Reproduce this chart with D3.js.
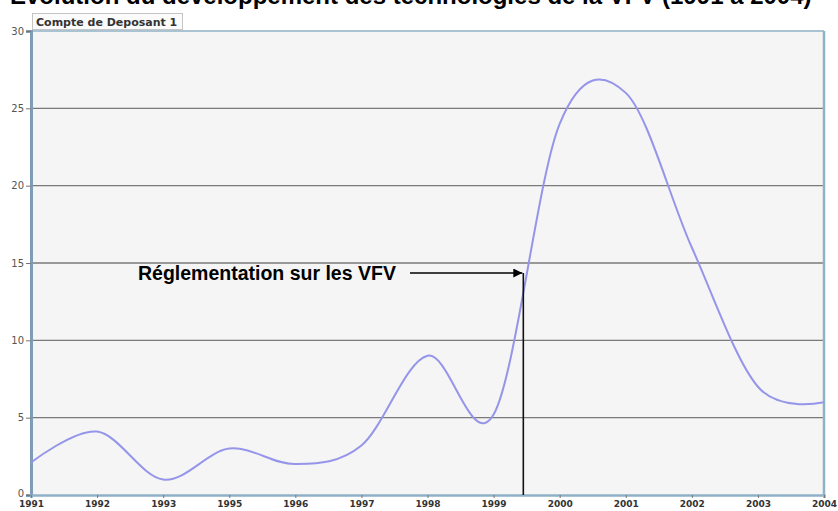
<!DOCTYPE html>
<html>
<head>
<meta charset="utf-8">
<script src="https://cdn.jsdelivr.net/npm/d3@7/dist/d3.min.js"></script>
<style>
  html, body { margin: 0; padding: 0; background: #ffffff; }
  svg { display: block; }
</style>
</head>
<body>
<svg id="chart" width="838" height="511"></svg>
<script>
// Years shown on the axis (1994 is absent from the series)
const years = ["1991", "1992", "1993", "1995", "1996", "1997", "1998", "1999", "2000", "2001", "2002", "2003", "2004"];
// Values of the series "Compte de Deposant 1"
const deposant = [2.1, 4.1, 1.0, 3.0, 2.0, 3.2, 9.0, 5.2, 24.0, 26.0, 16.0, 7.0, 6.0];
const yTicks = [0, 5, 10, 15, 20, 25, 30];
const seriesName = "Compte de Deposant 1";
const titleText = "Evolution du développement des technologies de la VFV (1991 à 2004)";
const annotationText = "Réglementation sur les VFV";
// Regulation date, as a position between the 1999 and 2000 categories
const annotationAfter = "1999";
const annotationFraction = 0.45;

const svg = d3.select("#chart");
const margin = { left: 31, right: 14, top: 31, bottom: 16 };
const W = 838, H = 511;

const x = d3.scalePoint().domain(years).range([margin.left, W - margin.right]);
const y = d3.scaleLinear().domain([0, 30]).range([H - margin.bottom, margin.top]);

// Title, running off the top edge
svg.append("text")
  .attr("x", 10).attr("y", 4)
  .attr("font-family", "Liberation Sans, Arial, sans-serif")
  .attr("font-weight", "bold").attr("font-size", 24)
  .attr("fill", "#000")
  .text(titleText);

// Plot background
svg.append("rect")
  .attr("x", margin.left).attr("y", y(30))
  .attr("width", x.range()[1] - margin.left)
  .attr("height", y(0) - y(30))
  .attr("fill", "#f5f5f5");

// Horizontal grid lines
svg.append("g").selectAll("line").data(yTicks.filter(d => d > 0 && d < 30)).join("line")
  .attr("x1", margin.left).attr("x2", x.range()[1])
  .attr("y1", d => y(d)).attr("y2", d => y(d))
  .attr("stroke", "#7a7a7a").attr("stroke-width", 1.4);

// Frame: top and right in light blue
svg.append("line")
  .attr("x1", margin.left).attr("x2", x.range()[1])
  .attr("y1", y(30)).attr("y2", y(30))
  .attr("stroke", "#a9c3d3").attr("stroke-width", 2);
svg.append("line")
  .attr("x1", x.range()[1]).attr("x2", x.range()[1])
  .attr("y1", y(30)).attr("y2", y(0))
  .attr("stroke", "#8fb3c6").attr("stroke-width", 2.5);

// Y axis
const yAxis = svg.append("g")
  .attr("transform", `translate(${margin.left},0)`)
  .call(d3.axisLeft(y).tickValues(yTicks).tickSize(5).tickPadding(2));
yAxis.select(".domain").attr("stroke", "#7f9cb6").attr("stroke-width", 3);
yAxis.selectAll(".tick line").attr("stroke", "#777");
yAxis.selectAll("text")
  .attr("font-family", "DejaVu Sans, sans-serif")
  .attr("font-size", 10).attr("fill", "#555");
yAxis.selectAll(".tick").filter(d => d === 0).select("text").attr("dy", "0.1em");

// X axis
const xAxis = svg.append("g")
  .attr("transform", `translate(0,${y(0)})`)
  .call(d3.axisBottom(x).tickSize(3).tickPadding(3));
xAxis.select(".domain").attr("stroke", "#8fb1c8").attr("stroke-width", 2.5);
xAxis.selectAll(".tick line").attr("stroke", "#777");
xAxis.selectAll("text")
  .attr("font-family", "DejaVu Sans, sans-serif")
  .attr("font-weight", "bold")
  .attr("font-size", 9).attr("fill", "#333");

// Series line
const line = d3.line()
  .x((d, i) => x(years[i]))
  .y(d => y(d))
  .curve(d3.curveCardinal.tension(0));
svg.append("path")
  .datum(deposant)
  .attr("d", line)
  .attr("fill", "none")
  .attr("stroke", "#9595ea")
  .attr("stroke-width", 2);

// Legend tag
const lg = svg.append("g");
lg.append("rect")
  .attr("x", margin.left + 1.5).attr("y", 13.5)
  .attr("width", 150).attr("height", 16)
  .attr("fill", "#fbfbfb").attr("stroke", "#c4c4c4");
lg.append("text")
  .attr("x", margin.left + 5).attr("y", 26)
  .attr("font-family", "DejaVu Sans, sans-serif")
  .attr("font-weight", "bold").attr("font-size", 11)
  .attr("fill", "#333")
  .text(seriesName);

// Regulation marker
const ax = x(annotationAfter) + annotationFraction * x.step();
const ay = 273;
svg.append("line")
  .attr("x1", ax).attr("x2", ax)
  .attr("y1", ay).attr("y2", y(0))
  .attr("stroke", "#111").attr("stroke-width", 1.6);

svg.append("defs").append("marker")
  .attr("id", "arrowhead")
  .attr("viewBox", "0 0 10 10")
  .attr("refX", 10).attr("refY", 5)
  .attr("markerWidth", 12).attr("markerHeight", 9)
  .attr("markerUnits", "userSpaceOnUse")
  .attr("orient", "auto")
  .append("path").attr("d", "M0,0 L10,5 L0,10 Z").attr("fill", "#000");

svg.append("line")
  .attr("x1", 410).attr("x2", ax - 1)
  .attr("y1", ay).attr("y2", ay)
  .attr("stroke", "#000").attr("stroke-width", 1.5)
  .attr("marker-end", "url(#arrowhead)");

svg.append("text")
  .attr("x", 138).attr("y", 280)
  .attr("font-family", "Liberation Sans, Arial, sans-serif")
  .attr("font-weight", "bold").attr("font-size", 19.5)
  .attr("fill", "#000")
  .text(annotationText);
</script>
</body>
</html>
